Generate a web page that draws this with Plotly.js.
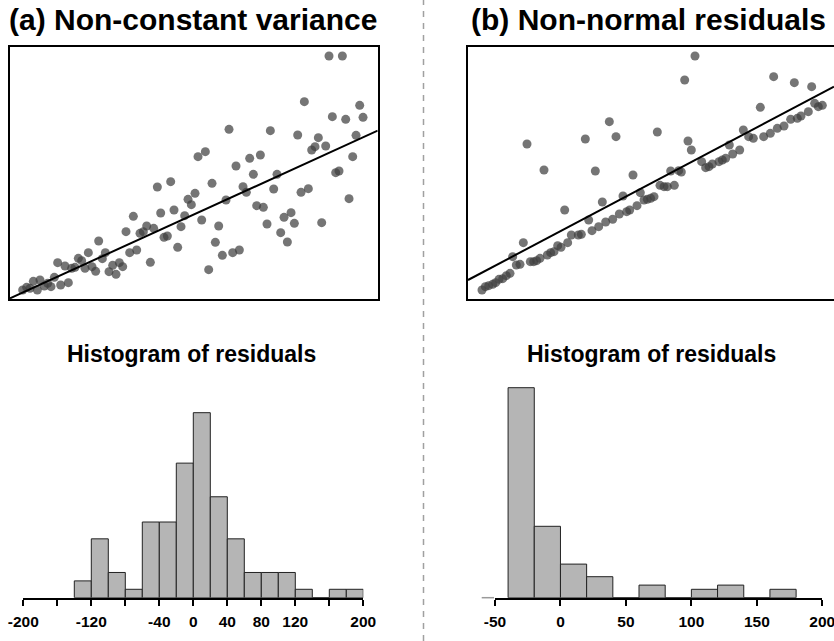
<!DOCTYPE html>
<html>
<head>
<meta charset="utf-8">
<script src="https://cdn.plot.ly/plotly-3.0.1.min.js"></script>
<style>
  html, body { margin: 0; padding: 0; background: #ffffff; }
  #chart { width: 834px; height: 641px; }
</style>
</head>
<body>
<div id="chart"></div>
<script>
// ---- (a) Non-constant variance: scatter with fitted line ----
const aX = [3.8, 5.0, 6.0, 7.0, 8.2, 9.0, 10.3, 11.3, 12.3, 13.3,
            14.3, 15.2, 16.5, 17.5, 18.5, 19.5, 20.5, 21.5, 22.5, 23.5,
            24.6, 25.7, 26.6, 27.7, 28.6, 29.7, 30.8, 31.8, 32.8, 33.8,
            34.8, 35.9, 37.0, 38.0, 39.0, 40.0, 41.0, 42.1, 43.1, 44.2,
            45.2, 46.2, 47.2, 48.2, 49.2, 50.3, 51.3, 52.4, 53.4, 54.4,
            55.5, 56.4, 57.5, 58.6, 59.6, 60.6, 61.6, 62.6, 63.7, 64.8,
            65.7, 66.8, 67.8, 68.8, 69.9, 70.9, 71.9, 73.0, 74.0, 75.1,
            76.0, 77.1, 78.1, 79.1, 80.1, 81.2, 82.2, 83.2, 84.3, 85.3,
            86.3, 87.3, 88.3, 89.5, 90.5, 91.5, 92.5, 93.5, 94.7, 95.7,
            96.7, 97.7, 98.7, 99.7, 100.7, 101.7, 102.8, 103.8, 104.9, 105.9];
const aY = [2.7, 3.5, 3.2, 5.3, 2.7, 5.7, 3.9, 4.7, 3.7, 6.5,
            10.9, 4.2, 9.9, 4.9, 9.2, 9.5, 12.2, 11.5, 9.2, 13.9,
            9.7, 8.3, 17.4, 12.1, 13.9, 8.2, 10.1, 7.4, 10.9, 9.7,
            20.2, 13.9, 24.8, 14.7, 19.7, 20.2, 21.9, 11.0, 21.2, 33.6,
            25.8, 18.5, 18.9, 35.2, 26.7, 15.5, 21.7, 25.0, 29.9, 28.3,
            31.7, 42.7, 23.7, 44.2, 8.8, 34.7, 17.0, 21.9, 13.1, 29.7,
            50.9, 13.9, 39.9, 14.7, 33.7, 32.0, 42.2, 37.4, 28.0, 43.2,
            27.5, 22.5, 50.5, 33.0, 37.4, 19.9, 24.5, 17.1, 25.9, 22.7,
            49.2, 32.0, 59.2, 33.1, 44.7, 45.7, 48.4, 22.9, 45.9, 72.9,
            54.7, 37.9, 38.4, 72.9, 53.9, 30.1, 42.7, 49.1, 58.1, 54.5];
const aFitX = [0, 110.3];
const aFitY = [0.2, 50.5];

// ---- (b) Non-normal residuals: scatter with fitted line ----
const bX = [4.2, 5.2, 6.2, 7.4, 8.3, 9.3, 10.4, 11.5, 12.6, 13.4,
            14.5, 15.6, 16.6, 17.7, 18.7, 19.7, 20.6, 21.6, 22.8, 23.8,
            24.8, 25.8, 26.9, 27.9, 29.0, 29.9, 31.0, 33.1, 34.0, 35.2,
            36.2, 37.2, 38.2, 39.2, 40.3, 41.3, 42.4, 43.4, 44.4, 45.4,
            46.5, 47.6, 48.5, 49.5, 50.7, 51.7, 52.8, 53.8, 54.8, 55.8,
            56.8, 57.6, 58.8, 59.8, 60.8, 61.9, 63.2, 64.0, 65.0, 66.0,
            67.0, 68.1, 70.1, 71.3, 72.3, 73.3, 75.3, 76.3, 77.3, 78.4,
            79.4, 81.5, 82.6, 84.2, 85.6, 87.7, 88.7, 90.7, 91.7, 92.8,
            94.8, 96.8, 97.9, 98.8, 99.9, 102.1, 103.1, 104.0, 105.1, 106.3];
const bY = [2.7, 3.7, 4.0, 4.4, 4.9, 5.9, 6.1, 7.0, 7.7, 12.7,
            10.2, 10.4, 16.9, 46.5, 11.2, 11.2, 11.5, 12.2, 38.7, 13.2,
            13.9, 14.2, 16.0, 15.5, 26.7, 16.9, 19.2, 19.2, 19.4, 48.0,
            23.7, 20.5, 38.4, 21.7, 29.1, 23.1, 53.2, 23.9, 48.7, 25.5,
            30.9, 26.2, 26.7, 37.2, 28.0, 31.9, 29.7, 29.9, 30.2, 30.7,
            50.1, 34.1, 33.7, 33.7, 38.4, 34.1, 38.5, 38.1, 65.7, 47.4,
            44.7, 72.9, 41.2, 39.4, 39.7, 40.5, 41.2, 41.7, 42.2, 46.2,
            43.5, 44.7, 50.7, 48.7, 48.2, 57.5, 48.7, 49.7, 66.7, 51.2,
            51.9, 53.9, 64.9, 54.2, 54.9, 56.2, 63.7, 58.7, 57.7, 58.1];
const bFitX = [0, 109.8];
const bFitY = [5.7, 63.7];

// ---- residual histograms (bin left edges, width 20) ----
const aBinLeft = [-140, -120, -100, -80, -60, -40, -20, 0, 20, 40, 60, 80, 100, 120, 140, 160, 180];
const aCounts  = [2, 7, 3, 1, 9, 9, 16, 22, 12, 7, 3, 3, 3, 1, 0, 1, 1];
const aTickVals = [-200, -160, -120, -80, -40, 0, 40, 80, 120, 160, 200];
const aTickText = ['-200', '', '-120', '', '-40', '0', '40', '80', '120', '', '200'];

const bBinLeft = [-40, -20, 0, 20, 40, 60, 80, 100, 120, 140, 160];
const bCounts  = [50, 17, 8, 5, 0, 3, 0, 2, 3, 0, 2];
const bTickVals = [-50, 0, 50, 100, 150, 200];
const bTickText = ['-50', '0', '50', '100', '150', '200'];

const binWidth = 20;

// ---- page geometry (pixels) ----
const W = 834, H = 641;
const px = v => v / W;
const py = v => 1 - v / H;

const FONT = 'Liberation Sans, Arial, Helvetica, sans-serif';
const pointStyle = { size: 9, color: 'rgba(64,64,64,0.72)', line: { width: 0 } };
const fitStyle = { color: '#000000', width: 2 };
const barStyle = { color: '#b5b5b5', line: { color: '#222222', width: 1 } };

const traces = [
  { type: 'scatter', mode: 'markers', x: aX, y: aY, xaxis: 'x', yaxis: 'y', marker: pointStyle, hoverinfo: 'skip' },
  { type: 'scatter', mode: 'lines', x: aFitX, y: aFitY, xaxis: 'x', yaxis: 'y', line: fitStyle, hoverinfo: 'skip' },
  { type: 'scatter', mode: 'markers', x: bX, y: bY, xaxis: 'x2', yaxis: 'y2', marker: pointStyle, hoverinfo: 'skip' },
  { type: 'scatter', mode: 'lines', x: bFitX, y: bFitY, xaxis: 'x2', yaxis: 'y2', line: fitStyle, hoverinfo: 'skip' },
  { type: 'bar', x: aBinLeft, y: aCounts, width: binWidth, offset: 0, xaxis: 'x3', yaxis: 'y3', marker: barStyle, hoverinfo: 'skip' },
  { type: 'bar', x: bBinLeft, y: bCounts, width: binWidth, offset: 0, xaxis: 'x4', yaxis: 'y4', marker: barStyle, hoverinfo: 'skip' }
];

const boxAxis = (domain, range, anchor, extra) => Object.assign({
  domain: domain, range: range, anchor: anchor, showline: true, linewidth: 2, linecolor: '#000',
  mirror: true, showticklabels: false, ticks: '', showgrid: false, zeroline: false, fixedrange: true
}, extra || {});

const histX = (domain, range, anchor, vals, text) => ({
  domain: domain, range: range, anchor: anchor, showline: true, linewidth: 2, linecolor: '#000',
  ticks: 'outside', ticklen: 6, tickwidth: 2, tickcolor: '#000',
  tickmode: 'array', tickvals: vals, ticktext: text,
  tickfont: { family: FONT, size: 15.5, color: '#000', weight: 'bold' },
  ticklabelstandoff: 3, ticklabeloverflow: 'allow',
  showgrid: false, zeroline: false, fixedrange: true
});

const histY = (domain, range, anchor) => ({
  domain: domain, range: range, anchor: anchor, visible: false,
  showgrid: false, zeroline: false, fixedrange: true
});

const histBase = 597.7;   // pixel row of the histogram baseline

const layout = {
  width: W, height: H,
  margin: { l: 0, r: 0, t: 0, b: 0 },
  paper_bgcolor: '#ffffff', plot_bgcolor: '#ffffff',
  showlegend: false,
  bargap: 0,
  xaxis:  boxAxis([px(10), px(377.7)], [0, 110.3], 'y'),
  yaxis:  boxAxis([py(299), py(47.3)], [0, 75.5], 'x'),
  xaxis2: boxAxis([px(468), 1], [0, 109.8], 'y2'),
  yaxis2: boxAxis([py(299), py(47.3)], [0, 75.5], 'x2', { mirror: false }),
  xaxis3: histX([px(23.3), px(363.3)], [-200, 200], 'y3', aTickVals, aTickText),
  yaxis3: histY([py(histBase), py(histBase - 8.41 * 26)], [0, 26], 'x3'),
  xaxis4: histX([px(495), px(822.3)], [-50, 200], 'y4', bTickVals, bTickText),
  yaxis4: histY([py(histBase), py(histBase - 4.2 * 52)], [0, 52], 'x4'),
  shapes: [
    // dashed divider between the two panels
    { type: 'line', xref: 'paper', yref: 'paper', x0: px(423.5), x1: px(423.5), y0: 0, y1: 1,
      line: { color: '#a0a0a0', width: 1.5, dash: '6px,6px' } },
    // faint lead-in of the right histogram baseline
    { type: 'line', xref: 'paper', yref: 'paper', x0: px(481.7), x1: px(494), y0: py(histBase), y1: py(histBase),
      line: { color: '#9a9a9a', width: 1.5 } }
  ],
  annotations: [
    { text: '(a) Non-constant variance', xref: 'paper', yref: 'paper', x: px(7), y: py(19),
      xanchor: 'left', yanchor: 'middle', showarrow: false,
      font: { family: FONT, size: 30, color: '#000', weight: 'bold' } },
    { text: '(b) Non-normal residuals', xref: 'paper', yref: 'paper', x: px(469), y: py(19),
      xanchor: 'left', yanchor: 'middle', showarrow: false,
      font: { family: FONT, size: 30, color: '#000', weight: 'bold' } },
    { text: 'Histogram of residuals', xref: 'paper', yref: 'paper', x: px(191), y: py(354),
      xanchor: 'center', yanchor: 'middle', showarrow: false,
      font: { family: FONT, size: 23, color: '#000', weight: 'bold' } },
    { text: 'Histogram of residuals', xref: 'paper', yref: 'paper', x: px(651), y: py(354),
      xanchor: 'center', yanchor: 'middle', showarrow: false,
      font: { family: FONT, size: 23, color: '#000', weight: 'bold' } }
  ]
};

Plotly.newPlot('chart', traces, layout, { staticPlot: true, displayModeBar: false });
</script>
</body>
</html>
